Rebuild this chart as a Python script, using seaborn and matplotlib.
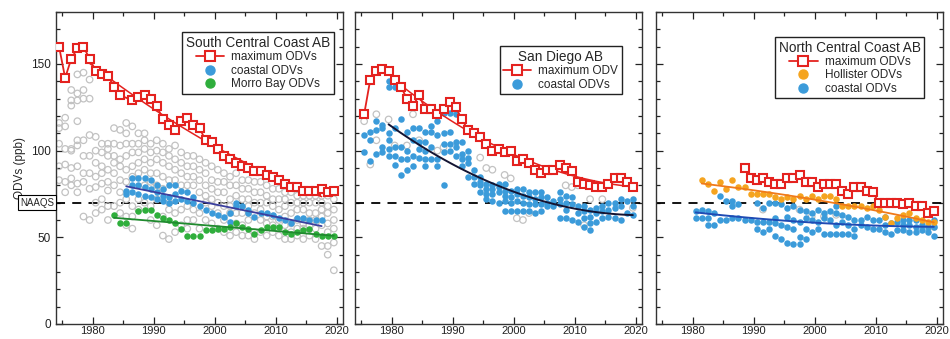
import numpy as np
import pandas as pd
import matplotlib
matplotlib.use("Agg")
import matplotlib.pyplot as plt
import matplotlib.transforms as mtransforms
from matplotlib.lines import Line2D
from matplotlib.ticker import MultipleLocator
import seaborn as sns

sns.set_style("ticks")
plt.rcParams['font.family'] = ['Liberation Sans', 'DejaVu Sans']

RED = '#e4221f'
BLUE = '#3b9bda'
GREEN = '#2fae3c'
ORANGE = '#f5a41f'
GRAY = '#c2c2c2'
NAAQS = 70

# ---------------- South Central Coast AB ----------------
scc_max_years = list(range(1974, 1985)) + list(range(1986, 2020))
scc_max = [160, 142, 153, 159, 160, 153, 146, 144, 143, 137, 132,
           129, 131, 132, 130, 126, 118, 115, 112, 117, 119, 115, 113, 106, 105,
           101, 97, 95, 93, 91, 90, 88, 88, 86, 85, 83, 81, 79, 79, 77, 77, 77,
           78, 76, 77]

scc_coastal_start = 1985
scc_coastal = [[77, 75], [84, 80, 76], [84, 80, 75], [84, 79, 74], [83, 78, 73],
               [80, 76, 72], [78, 74, 71], [80, 73, 70], [80, 75, 71], [77, 72],
               [76, 71], [73, 70], [68], [66], [64], [63], [62], [64, 59],
               [70, 68], [68], [66, 64], [62], [64], [64], [63], [61], [60],
               [58], [61], [61], [60], [60], [60]]

scc_morro_years = [1983, 1984, 1985] + list(range(1987, 2020))
scc_morro = [63, 58, 58, 65, 66, 66, 63, 61, 60, 58, 55, 51, 51, 51, 54, 54,
             55, 55, 56, 58, 56, 55, 52, 54, 56, 56, 56, 53, 52, 53, 54, 55,
             52, 51, 51, 51]

scc_other_start = 1974
scc_other = [
    [116, 113, 104, 91, 83],
    [119, 114, 101, 92, 82, 76],
    [135, 129, 126, 101, 100, 90, 84, 80],
    [144, 133, 129, 117, 106, 103, 91, 81, 76],
    [145, 135, 130, 106, 97, 87, 82, 62],
    [141, 130, 109, 97, 87, 78, 60],
    [108, 100, 93, 85, 79, 70, 64],
    [104, 99, 91, 87, 81, 72, 66],
    [104, 101, 97, 89, 82, 77, 68, 60],
    [113, 104, 97, 93, 87, 80, 68],
    [112, 103, 95, 91, 83, 76, 70, 64],
    [116, 110, 104, 97, 89, 82, 72, 62, 57],
    [114, 104, 99, 91, 85, 68, 62, 55],
    [110, 104, 99, 93, 87, 72, 66],
    [110, 106, 101, 95, 89, 80, 70],
    [104, 99, 93, 87, 82, 68, 60],
    [106, 100, 95, 87, 80, 72, 57],
    [104, 99, 93, 85, 78, 62, 51],
    [101, 97, 91, 83, 70, 66, 49],
    [103, 95, 89, 83, 64, 53],
    [99, 93, 87, 80, 66, 57],
    [97, 91, 85, 80, 68, 60, 55],
    [97, 91, 85, 80, 66, 60],
    [95, 89, 83, 76, 64, 55],
    [93, 87, 80, 74, 70, 60],
    [91, 83, 78, 72, 68, 58],
    [89, 82, 76, 70, 64, 55],
    [87, 82, 76, 68, 60, 53],
    [85, 80, 72, 68, 64, 51],
    [87, 80, 74, 64, 58, 53],
    [83, 78, 72, 64, 57, 51],
    [83, 78, 72, 68, 60, 51],
    [82, 76, 70, 64, 53, 49],
    [82, 76, 70, 66, 60, 53],
    [80, 74, 70, 62, 58, 51],
    [78, 72, 68, 62, 57, 53],
    [78, 72, 66, 60, 55, 51],
    [76, 72, 68, 62, 57, 49],
    [76, 70, 64, 58, 53, 49],
    [74, 70, 66, 60, 55, 51],
    [74, 70, 66, 58, 55, 49],
    [74, 70, 64, 60, 57, 51],
    [74, 70, 64, 60, 55, 49],
    [74, 70, 66, 62, 57, 45],
    [74, 68, 64, 58, 53, 45, 40],
    [72, 66, 60, 55, 47, 31],
]

# ---------------- San Diego AB ----------------
sd_max_years = list(range(1975, 2020))
sd_max = [121, 141, 146, 147, 146, 141, 137, 130, 126, 132, 124, 124, 121, 124,
          128, 125, 118, 112, 110, 108, 104, 100, 101, 99, 100, 94, 95, 93, 89,
          87, 89, 89, 92, 90, 88, 82, 81, 80, 79, 79, 81, 84, 84, 82, 79]

sd_coastal_start = 1975
sd_coastal = [
    [109, 99], [111, 106, 94], [117, 112, 98], [115, 113, 102, 99],
    [140, 137, 110, 106, 101, 97], [137, 113, 102, 97, 92], [118, 102, 95, 86],
    [111, 100, 95, 89], [113, 106, 97, 91], [113, 105, 101, 96],
    [111, 105, 100, 95, 91], [114, 111, 102, 95], [117, 109, 95, 91],
    [122, 110, 104, 99, 80], [122, 111, 104, 100], [121, 105, 102, 97],
    [105, 98, 95, 91], [100, 96, 93, 85], [89, 85, 81], [85, 82, 80, 76],
    [81, 78, 75, 72], [80, 78, 75, 71], [81, 79, 76, 70], [81, 77, 74, 71, 65],
    [77, 73, 70, 65], [78, 75, 71, 65], [78, 74, 70, 65], [76, 73, 69, 65],
    [76, 72, 69, 64], [76, 73, 69, 65], [73, 70, 68], [71, 68],
    [76, 72, 69, 61], [74, 70, 66, 61], [73, 69, 60], [68, 64, 59],
    [68, 65, 61, 56], [66, 62, 58, 54], [67, 64, 59], [68, 65, 61],
    [70, 66, 62], [70, 67, 61], [72, 68, 60], [71, 64], [72, 68, 63],
]

sd_other_years = [1975, 1977, 1977, 1976, 1979, 1980, 1982, 1983, 1984, 1988,
                  1987, 1994, 1995, 1996, 1998, 1999, 2000, 2001, 2002, 2008,
                  2009, 2010, 2011, 2012, 2014, 2019]
sd_other = [117, 121, 106, 92, 118, 103, 103, 121, 106, 102, 100, 96, 90, 89,
            86, 84, 61, 60, 64, 80, 79, 80, 57, 72, 72, 67]

# ---------------- North Central Coast AB ----------------
ncc_max_years = list(range(1988, 2020))
ncc_max = [90, 84, 83, 84, 82, 81, 81, 84, 84, 86, 82, 82, 79, 81, 81, 81,
           77, 75, 79, 79, 77, 76, 70, 70, 70, 70, 69, 70, 68, 68, 64, 65]

ncc_hollister_years = list(range(1981, 2020))
ncc_hollister = [83, 81, 77, 82, 78, 83, 79, 79, 75, 75, 75, 75, 73, 72, 73,
                 72, 74, 72, 74, 72, 74, 74, 72, 68, 68, 68, 68, 67, 68, 66,
                 62, 58, 61, 63, 64, 61, 60, 59, 59]

ncc_coastal_start = 1980
ncc_coastal = [
    [65, 61], [66, 61], [65, 61, 57], [64, 57], [74, 60], [71, 60],
    [71, 68, 61], [69, 61], [60], [60], [70, 59, 55], [67, 59, 53],
    [70, 59, 55], [70, 61, 58, 51], [69, 57, 49], [67, 62, 56, 47],
    [68, 60, 55, 46], [66, 59, 50, 46], [65, 61, 55, 49], [64, 60, 53],
    [66, 59, 55], [64, 61, 52], [65, 60, 52], [68, 64, 57, 52], [63, 59, 52],
    [62, 57, 52], [60, 55, 51], [60, 57], [62, 56], [60, 55], [60, 55],
    [62, 57, 53], [58, 52], [59, 54], [60, 57, 54], [60, 57, 53],
    [60, 56, 53], [57, 54], [56, 53], [60, 56, 51],
]

ncc_other_years = [1991, 1997, 1999, 2001, 2003, 2019]
ncc_other = [66, 66, 62, 62, 63, 56]


def groups_to_df(start, groups):
    rows = [(start + i + 0.5, v) for i, g in enumerate(groups) for v in g]
    return pd.DataFrame(rows, columns=['year', 'odv'])


def trend(x, y, lo, hi, deg):
    x = np.asarray(x, float)
    y = np.asarray(y, float)
    m = (x >= lo) & (x <= hi)
    c = np.polyfit(x[m], y[m], deg)
    xs = np.linspace(lo, hi, 60)
    return xs, np.polyval(c, xs)


def draw_max(ax, years, vals):
    sns.lineplot(x=np.array(years) + 0.5, y=vals, ax=ax, color=RED, lw=1.3,
                 marker='s', markersize=6, markerfacecolor='white',
                 markeredgecolor=RED, markeredgewidth=1.5, estimator=None,
                 sort=False, zorder=6)


def draw_dots(ax, df, color, z=4):
    sns.scatterplot(data=df, x='year', y='odv', ax=ax, color=color, s=22,
                    linewidth=0, zorder=z)


def draw_open(ax, df):
    ax.scatter(df['year'], df['odv'], s=22, facecolors='none',
               edgecolors=GRAY, linewidths=0.9, zorder=2)


fig = plt.figure(figsize=(9.5, 3.39), dpi=100)
W, H = 950, 339
axes = []
for left in (56, 355, 656):
    axes.append(fig.add_axes([left / W, 15 / H, 287 / W, 312 / H]))
ax1, ax2, ax3 = axes

for ax in axes:
    ax.axhline(NAAQS, color='black', lw=1.3, ls=(0, (5, 4)), zorder=1)

# panel 1
scc_other_df = groups_to_df(scc_other_start, scc_other)
scc_coastal_df = groups_to_df(scc_coastal_start, scc_coastal)
scc_morro_df = pd.DataFrame({'year': np.array(scc_morro_years) + 0.5, 'odv': scc_morro})
draw_open(ax1, scc_other_df)
draw_dots(ax1, scc_coastal_df, BLUE)
draw_dots(ax1, scc_morro_df, GREEN)
xs, ys = trend(scc_coastal_df['year'], scc_coastal_df['odv'], 1985.5, 2017.5, 1)
sns.lineplot(x=xs, y=ys, ax=ax1, color='#3b3f9e', lw=1.3, zorder=5)
xs, ys = trend(scc_morro_df['year'], scc_morro_df['odv'], 1983.5, 2019.5, 1)
sns.lineplot(x=xs, y=ys, ax=ax1, color='#1f8a2e', lw=1.3, zorder=5)
xs, ys = trend(np.array(scc_max_years) + 0.5, scc_max, 1979.5, 2017.5, 2)
sns.lineplot(x=xs, y=ys, ax=ax1, color=RED, lw=1.1, zorder=5)
draw_max(ax1, scc_max_years, scc_max)

# panel 2
sd_other_df = pd.DataFrame({'year': np.array(sd_other_years) + 0.5, 'odv': sd_other})
sd_coastal_df = groups_to_df(sd_coastal_start, sd_coastal)
draw_open(ax2, sd_other_df)
draw_dots(ax2, sd_coastal_df, BLUE)
xs, ys = trend(sd_coastal_df['year'], sd_coastal_df['odv'], 1979.5, 2019.5, 2)
sns.lineplot(x=xs, y=ys, ax=ax2, color='#141432', lw=1.4, zorder=5)
xs, ys = trend(np.array(sd_max_years) + 0.5, sd_max, 1980.5, 2019.5, 2)
sns.lineplot(x=xs, y=ys, ax=ax2, color=RED, lw=1.1, zorder=5)
draw_max(ax2, sd_max_years, sd_max)

# panel 3
ncc_other_df = pd.DataFrame({'year': np.array(ncc_other_years) + 0.5, 'odv': ncc_other})
ncc_coastal_df = groups_to_df(ncc_coastal_start, ncc_coastal)
ncc_holl_df = pd.DataFrame({'year': np.array(ncc_hollister_years) + 0.5, 'odv': ncc_hollister})
draw_open(ax3, ncc_other_df)
draw_dots(ax3, ncc_coastal_df, BLUE)
draw_dots(ax3, ncc_holl_df, ORANGE)
xs, ys = trend(ncc_coastal_df['year'], ncc_coastal_df['odv'], 1980.5, 2019.5, 2)
sns.lineplot(x=xs, y=ys, ax=ax3, color='#1f4bb4', lw=1.4, zorder=5)
xs, ys = trend(ncc_holl_df['year'], ncc_holl_df['odv'], 1981.5, 2019.5, 2)
sns.lineplot(x=xs, y=ys, ax=ax3, color='#f07a1a', lw=1.3, zorder=5)
draw_max(ax3, ncc_max_years, ncc_max)

for i, ax in enumerate(axes):
    ax.set_xlim(1974, 2021)
    ax.set_ylim(0, 180)
    ax.xaxis.set_major_locator(MultipleLocator(10))
    ax.xaxis.set_minor_locator(MultipleLocator(5))
    ax.yaxis.set_major_locator(MultipleLocator(50))
    ax.yaxis.set_minor_locator(MultipleLocator(10))
    ax.tick_params(which='both', direction='in', top=True, right=True,
                   labelsize=8.5, width=0.9, colors='#222222')
    ax.tick_params(axis='x', labelsize=8, pad=1.5)
    ax.tick_params(which='major', length=5)
    ax.tick_params(which='minor', length=3)
    for sp in ax.spines.values():
        sp.set_linewidth(1.0)
        sp.set_color('#333333')
    ax.set_xlabel('')
    ax.set_ylabel('')
    if i > 0:
        ax.tick_params(labelleft=False)

ax1.set_ylabel('ODVs (ppb)', fontsize=8.5, labelpad=4)
trans = mtransforms.blended_transform_factory(ax1.transAxes, ax1.transData)
ax1.text(-0.066, NAAQS, 'NAAQS', transform=trans, ha='center', va='center',
         fontsize=7, bbox=dict(boxstyle='square,pad=0.25', fc='white',
                               ec='black', lw=0.8))


def max_handle():
    return Line2D([], [], color=RED, lw=1.3, marker='s', markersize=6.5,
                  markerfacecolor='white', markeredgecolor=RED,
                  markeredgewidth=1.5)


def dot_handle(c):
    return Line2D([], [], ls='none', marker='o', markersize=6.5, color=c)


def add_legend(ax, handles, labels, title, anchor):
    leg = ax.legend(handles, labels, title=title, loc='upper right',
                    bbox_to_anchor=anchor, frameon=True, fancybox=False,
                    edgecolor='#222222', framealpha=1, fontsize=8.5,
                    title_fontsize=9.8, borderpad=0.3, labelspacing=0.12,
                    handlelength=2.4, handletextpad=0.6, borderaxespad=0)
    leg.get_frame().set_linewidth(1.0)


add_legend(ax1, [max_handle(), dot_handle(BLUE), dot_handle(GREEN)],
           ['maximum ODVs', 'coastal ODVs', 'Morro Bay ODVs'],
           'South Central Coast AB', (0.967, 0.935))
add_legend(ax2, [max_handle(), dot_handle(BLUE)],
           ['maximum ODV', 'coastal ODVs'], 'San Diego AB', (0.93, 0.89))
add_legend(ax3, [max_handle(), dot_handle(ORANGE), dot_handle(BLUE)],
           ['maximum ODVs', 'Hollister ODVs', 'coastal ODVs'],
           'North Central Coast AB', (0.935, 0.92))

fig.savefig('out.png', dpi=100)
